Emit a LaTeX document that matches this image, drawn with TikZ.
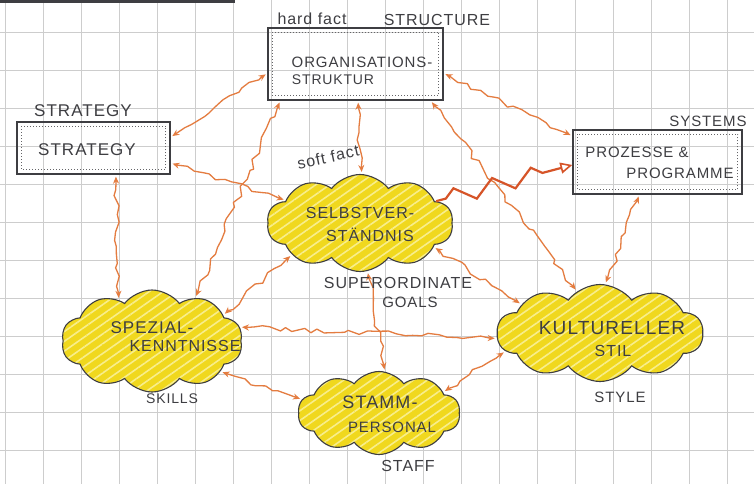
\documentclass[tikz,border=0pt]{standalone}
\usepackage{fontspec}
\newfontfamily\handfont[LetterSpace=6]{Liberation Sans}
\usetikzlibrary{shapes.symbols,decorations.pathmorphing,arrows.meta,patterns.meta}
\definecolor{gridc}{RGB}{205,205,205}
\definecolor{ink}{RGB}{62,62,66}
\definecolor{arr}{RGB}{228,124,64}
\definecolor{arrd}{RGB}{214,84,40}
\definecolor{yel}{RGB}{240,216,30}
\definecolor{hatch}{RGB}{248,238,140}
\newcommand\hsz[1]{\handfont\fontsize{#1}{#1}\selectfont}
\begin{document}
\begin{tikzpicture}[x=1pt,y=-1pt,
  box/.style={draw=ink, line width=1.3pt, rectangle, inner sep=0pt},
  inner/.style={draw=ink!80, line width=1pt, dotted},
  cloudn/.style={cloud, cloud puffs=10, cloud puff arc=105, cloud ignores aspect, draw=ink, line width=1.1pt, inner sep=0pt,
     preaction={fill=yel},
     preaction={pattern={Lines[angle=35,distance=8pt,line width=1.6pt]}, pattern color=hatch}},
  txt/.style={text=ink, inner sep=0pt},
  zz/.style={draw=arr, line width=1.3pt, line join=round, {Stealth[length=7pt,width=6pt]}-{Stealth[length=7pt,width=6pt]},
     decorate, decoration={random steps, segment length=8pt, amplitude=3pt, pre length=7pt, post length=7pt},
     shorten >=2pt, shorten <=2pt},
  zzt/.style={draw=arrd, line width=2.2pt, line join=miter, -{Triangle[open,length=12pt,width=11pt,line width=1.6pt]},
     decorate, decoration={zigzag, segment length=40pt, amplitude=8pt, pre length=10pt, post length=16pt}}
]
\pgfmathsetseed{11}
\useasboundingbox (0,0) rectangle (754,484);
\fill[white] (0,0) rectangle (754,484);
% grid paper
\foreach \gx in {5,43,...,727} \draw[gridc, line width=0.9pt] (\gx,0) -- (\gx,484);
\foreach \gy in {32,70,...,450} \draw[gridc, line width=0.9pt] (0,\gy) -- (754,\gy);
\fill[ink] (0,0) rectangle (235,3);

% boxes
\node[box, minimum width=153, minimum height=52] (strat) at (93.5,148) {};
\node[box, minimum width=175, minimum height=72] (struct) at (355.5,64) {};
\node[box, minimum width=169, minimum height=64] (sys) at (657.5,162) {};
\foreach \b in {strat,struct,sys}
  \draw[inner] ([shift={(5,5)}]\b.north west) rectangle ([shift={(-5,-5)}]\b.south east);

% clouds
\node[cloudn, minimum width=186, minimum height=97] (shared) at (360,223) {};
\node[cloudn, minimum width=181, minimum height=102] (skills) at (152,341) {};
\node[cloudn, minimum width=162, minimum height=83] (staff) at (379,413) {};
\node[cloudn, minimum width=206, minimum height=97] (style) at (600,333) {};

% connectors
\draw[zz] (strat.8) -- (struct.186);
\draw[zz] (struct.-6) -- (sys.163);
\draw[zz] (strat.-11) -- (shared.163);
\draw[zz] (strat.-50) -- (skills.129);
\draw[zz] (struct.206) -- (skills.45);
\draw[zz] (struct.-86) -- (shared.88);
\draw[zz] (struct.-26) -- (style.119);
\draw[zzt] (shared.16) -- (sys.182);
\draw[zz] (sys.-119) -- (style.84);
\draw[zz] (shared.-18) -- (style.160);
\draw[zz] (shared.-81) -- (staff.82);
\draw[zz] (shared.205) -- (skills.20);
\draw[zz] (skills.9) -- (style.183);
\draw[zz] (skills.-24) -- (staff.170);
\draw[zz] (staff.18) -- (style.191);

% texts
\node[txt, font=\hsz{16}] (hardfact) at (312,19) {hard fact};
\node[txt, font=\hsz{16}] (lstruct) at (437,20) {STRUCTURE};
\node[txt, font=\hsz{15}] (t1a) at (362,62) {ORGANISATIONS-};
\node[txt, font=\hsz{14}] (t1b) at (333,80) {STRUKTUR};

\node[txt, font=\hsz{17}] (lstrat) at (83,111) {STRATEGY};
\node[txt, font=\hsz{17}] (t2) at (87,150) {STRATEGY};

\node[txt, font=\hsz{15}] (lsys) at (708,121) {SYSTEMS};
\node[txt, font=\hsz{15}] (t3a) at (637,152) {PROZESSE \&};
\node[txt, font=\hsz{15}] (t3b) at (680,173) {PROGRAMME};

\node[txt, font=\hsz{16}, rotate=12] (softfact) at (328,157) {soft fact};
\node[txt, font=\hsz{16}] (t4a) at (360,213) {SELBSTVER-};
\node[txt, font=\hsz{16}] (t4b) at (370,235) {STÄNDNIS};
\node[txt, font=\hsz{16}] (lgoals1) at (398,283) {SUPERORDINATE};
\node[txt, font=\hsz{15}] (lgoals2) at (410,302) {GOALS};

\node[txt, font=\hsz{17}] (t5a) at (152,328) {SPEZIAL-};
\node[txt, font=\hsz{16}] (t5b) at (185,346) {KENNTNISSE};
\node[txt, font=\hsz{14}] (lskills) at (172,399) {SKILLS};

\node[txt, font=\hsz{18}] (t6a) at (380,402) {STAMM-};
\node[txt, font=\hsz{15}] (t6b) at (392,427) {PERSONAL};
\node[txt, font=\hsz{16}] (lstaff) at (408,466) {STAFF};

\node[txt, font=\hsz{19}] (t7a) at (612,328) {KULTURELLER};
\node[txt, font=\hsz{16}] (t7b) at (613,351) {STIL};
\node[txt, font=\hsz{15}] (lstyle) at (620,397) {STYLE};
\end{tikzpicture}
\end{document}
